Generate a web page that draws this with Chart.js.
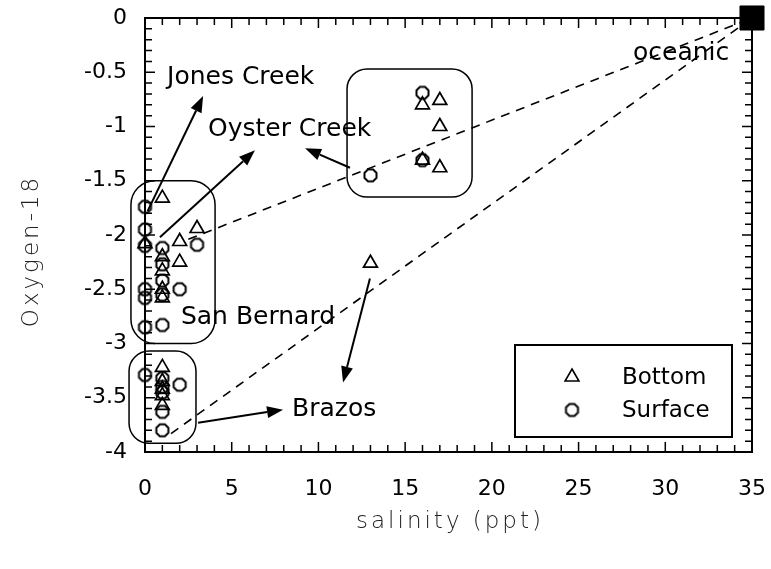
<!DOCTYPE html>
<html><head><meta charset="utf-8">
<script src="https://cdn.jsdelivr.net/npm/chart.js@4"></script>
<style>html,body{margin:0;padding:0;background:#fff}#wrap{width:771px;height:569px}</style>
</head><body><div id="wrap"><canvas id="c" width="771" height="569"></canvas></div>
<script>
// ---- data ----
const xTickValues = [0,5,10,15,20,25,30,35];
const xTickLabels = ['0','5','10','15','20','25','30','35'];
const yTickValues = [0,-0.5,-1,-1.5,-2,-2.5,-3,-3.5,-4];
const yTickLabels = ['0','-0.5','-1','-1.5','-2','-2.5','-3','-3.5','-4'];

const bottomSalinity = [1, 3, 2, 0, 1, 1, 2, 1, 1, 13, 16, 17, 17, 16, 17, 1, 1, 1, 1, 1];
const bottomO18      = [-1.66,-1.94,-2.06,-2.08,-2.2,-2.33,-2.25,-2.5,-2.58,-2.26,-0.80,-0.76,-1.00,-1.31,-1.38,-3.22,-3.35,-3.42,-3.48,-3.57];

const surfaceSalinity = [0, 0, 0, 1, 3, 1, 1, 1, 0, 0, 2, 0, 1, 13, 16, 16, 0, 1, 1, 2, 1, 1, 1];
const surfaceO18      = [-1.74,-1.95,-2.1,-2.12,-2.09,-2.27,-2.42,-2.55,-2.5,-2.58,-2.5,-2.85,-2.83,-1.45,-0.69,-1.31,-3.29,-3.32,-3.4,-3.38,-3.45,-3.63,-3.80];

const oceanicSalinity = [35];
const oceanicO18 = [0];

const upperMixSalinity = [2.5, 35];
const upperMixO18 = [-2.04, 0];
const lowerMixSalinity = [1.5, 35];
const lowerMixO18 = [-3.83, 0];

const seriesNames = ['Bottom', 'Surface'];

// ---- helpers ----
const zip = (xs, ys) => xs.map((x, i) => ({x, y: ys[i]}));
function octagon(r){
  const s = Math.ceil(2*r + 4);
  const c = document.createElement('canvas'); c.width = s; c.height = s;
  const g = c.getContext('2d'); g.lineWidth = 2; g.strokeStyle = '#000';
  g.beginPath();
  for (let i = 0; i < 8; i++){
    const a = Math.PI/8 + i*Math.PI/4;
    const px = s/2 + r*Math.cos(a), py = s/2 + r*Math.sin(a);
    i ? g.lineTo(px, py) : g.moveTo(px, py);
  }
  g.closePath(); g.stroke();
  return c;
}
const octImg = octagon(6.5);

const annotationsPlugin = {
  id: 'annot',
  beforeDatasetsDraw(chart){
    const ctx = chart.ctx, xs = chart.scales.x, ys = chart.scales.y;
    const {left, right, top, bottom} = chart.chartArea;
    ctx.save();
    ctx.strokeStyle = '#000';
    ctx.lineWidth = 2;
    ctx.strokeRect(left, top, right-left, bottom-top);
    ctx.lineWidth = 1.5;
    ctx.beginPath();
    for (let v = 0; v <= 35; v++){
      const px = xs.getPixelForValue(v), L = v % 5 === 0 ? 10 : 7;
      ctx.moveTo(px, bottom); ctx.lineTo(px, bottom - L);
      ctx.moveTo(px, top); ctx.lineTo(px, top + L);
    }
    for (let i = 0; i <= 40; i++){
      const py = ys.getPixelForValue(-i/10), L = i % 5 === 0 ? 10 : 7;
      ctx.moveTo(left, py); ctx.lineTo(left + L, py);
      ctx.moveTo(right, py); ctx.lineTo(right - L, py);
    }
    ctx.stroke();
    const boxes = [
      {x0:-0.81, x1:4.04, y0:-1.50, y1:-3.00, r:24},
      {x0:-0.92, x1:2.94, y0:-3.07, y1:-3.92, r:20},
      {x0:11.65, x1:18.86, y0:-0.47, y1:-1.65, r:20}
    ];
    ctx.lineWidth = 1.5;
    boxes.forEach(b => {
      const x0 = xs.getPixelForValue(b.x0), x1 = xs.getPixelForValue(b.x1);
      const y0 = ys.getPixelForValue(b.y0), y1 = ys.getPixelForValue(b.y1);
      ctx.beginPath(); ctx.roundRect(x0, y0, x1-x0, y1-y0, b.r); ctx.stroke();
    });
    ctx.restore();
  },
  afterDatasetsDraw(chart){
    const ctx = chart.ctx, xs = chart.scales.x, ys = chart.scales.y;
    const P = (x, y) => [xs.getPixelForValue(x), ys.getPixelForValue(y)];
    ctx.save();
    ctx.strokeStyle = '#000'; ctx.fillStyle = '#000';
    const arrows = [
      [0.15,-1.78, 3.35,-0.72],
      [0.86,-2.02, 6.34,-1.22],
      [11.82,-1.38, 9.23,-1.20],
      [12.97,-2.40, 11.42,-3.36],
      [3.06,-3.73, 7.96,-3.61]
    ];
    ctx.lineWidth = 2;
    arrows.forEach(a => {
      const [x0,y0] = P(a[0],a[1]), [x1,y1] = P(a[2],a[3]);
      const ang = Math.atan2(y1-y0, x1-x0), L = 16, W = 6;
      const bx = x1 - L*Math.cos(ang), by = y1 - L*Math.sin(ang);
      ctx.beginPath(); ctx.moveTo(x0,y0); ctx.lineTo(bx,by); ctx.stroke();
      ctx.beginPath(); ctx.moveTo(x1,y1);
      ctx.lineTo(bx + W*Math.sin(ang), by - W*Math.cos(ang));
      ctx.lineTo(bx - W*Math.sin(ang), by + W*Math.cos(ang));
      ctx.closePath(); ctx.fill();
    });
    ctx.font = '25px "DejaVu Sans"';
    ctx.textBaseline = 'middle'; ctx.textAlign = 'left';
    const labels = [
      ['Jones Creek', 1.27, -0.55],
      ['Oyster Creek', 3.63, -1.03],
      ['San Bernard', 2.07, -2.76],
      ['Brazos', 8.48, -3.61],
      ['oceanic', 28.14, -0.33]
    ];
    labels.forEach(l => { const [px,py] = P(l[1], l[2]); ctx.fillText(l[0], px, py); });

    // legend
    ctx.lineWidth = 2;
    ctx.strokeRect(515, 345, 217, 92);
    ctx.lineWidth = 1.6;
    const tx = 572, ty = 377, r = 8;
    ctx.beginPath();
    ctx.moveTo(tx, ty - r); ctx.lineTo(tx + r*Math.sin(2*Math.PI/3), ty - r*Math.cos(2*Math.PI/3));
    ctx.lineTo(tx + r*Math.sin(4*Math.PI/3), ty - r*Math.cos(4*Math.PI/3)); ctx.closePath(); ctx.stroke();
    ctx.drawImage(octImg, 572 - octImg.width/2, 410 - octImg.height/2);
    ctx.font = '23px "DejaVu Sans"';
    ctx.fillText(seriesNames[0], 622, 378);
    ctx.fillText(seriesNames[1], 622, 411);

    // axis titles
    ctx.fillStyle = '#222';
    ctx.font = '200 23px "DejaVu Sans"';
    try { ctx.fontStretch = 'condensed'; } catch(e) {}
    ctx.letterSpacing = '3px';
    ctx.textAlign = 'center';
    ctx.fillText('salinity (ppt)', 450, 522);
    ctx.translate(32, 251); ctx.rotate(-Math.PI/2);
    ctx.fillText('Oxygen-18', 0, 0);
    ctx.restore();
  }
};

const tri = {pointStyle:'triangle', pointRadius:8, pointHoverRadius:8, borderColor:'#000', backgroundColor:'rgba(0,0,0,0)', pointBorderWidth:1.7, borderWidth:1.7};

new Chart(document.getElementById('c'), {
  type: 'scatter',
  data: {
    datasets: [
      {type:'line', label:'upper', data: zip(upperMixSalinity, upperMixO18), borderColor:'#000', borderWidth:1.6, borderDash:[9,7], pointRadius:0, fill:false, clip:false},
      {type:'line', label:'lower', data: zip(lowerMixSalinity, lowerMixO18), borderColor:'#000', borderWidth:1.6, borderDash:[9,7], pointRadius:0, fill:false, clip:false},
      Object.assign({label: seriesNames[0], data: zip(bottomSalinity, bottomO18), clip:false}, tri),
      {label: seriesNames[1], data: zip(surfaceSalinity, surfaceO18), pointStyle: octImg, pointRadius:7, clip:false},
      {label:'oceanic', data: zip(oceanicSalinity, oceanicO18), pointStyle:'rect', pointRadius:17, pointHoverRadius:17, backgroundColor:'#000', borderColor:'#000', clip:false}
    ]
  },
  options: {
    responsive: false, animation: false, devicePixelRatio: 1,
    layout: {autoPadding: false, padding: {top:0, right:0, left:0, bottom:0}},
    plugins: {legend:{display:false}, tooltip:{enabled:false}},
    scales: {
      x: {
        type:'linear', min:0, max:35, position:'bottom',
        grid:{display:false, drawTicks:false}, border:{display:false},
        afterBuildTicks: s => { s.ticks = xTickValues.map(v => ({value:v})); },
        afterFit: s => { s.height = 117; s.paddingRight = 19; },
        ticks: {padding:24, color:'#000', font:{family:'DejaVu Sans', size:22},
          callback: (v) => xTickLabels[xTickValues.indexOf(v)], maxRotation:0, autoSkip:false}
      },
      y: {
        type:'linear', min:-4, max:0,
        grid:{display:false, drawTicks:false}, border:{display:false},
        afterBuildTicks: s => { s.ticks = yTickValues.map(v => ({value:v})); },
        afterFit: s => { s.width = 145; s.paddingTop = 18; },
        ticks: {padding:18, color:'#000', font:{family:'DejaVu Sans', size:22},
          callback: (v) => yTickLabels[yTickValues.indexOf(v)], autoSkip:false}
      }
    }
  },
  plugins: [annotationsPlugin]
});
</script>
</body></html>
